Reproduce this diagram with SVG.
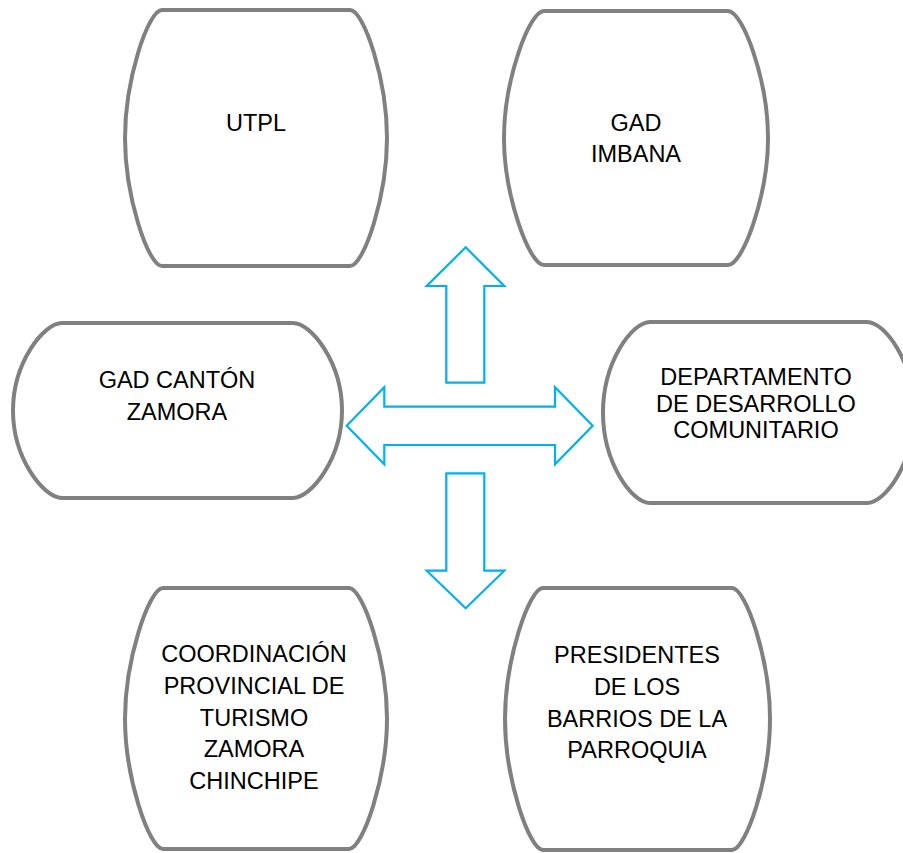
<svg xmlns="http://www.w3.org/2000/svg" width="903" height="853" viewBox="0 0 903 853">
<style>
.node{fill:#ffffff;stroke:#808080;stroke-width:4}
.arrow{fill:#ffffff;stroke:#00b0f0;stroke-width:2.2;stroke-linejoin:miter}
text{font-family:"Liberation Sans",Arial,sans-serif;font-size:23.5px;fill:#000;text-anchor:middle}
</style>
<rect width="903" height="853" fill="#ffffff"/>
<g id="connectors">
<path class="arrow" d="M465.7,247.3 L504.3,286 H484.3 V382.7 H446.3 V286 H426.7 Z"/>
<path class="arrow" d="M346.7,425.7 L384.3,387.3 V406.7 H555 V387.3 L592.7,425.7 L555,464.3 V445 H384.3 V464.3 Z"/>
<path class="arrow" d="M446.3,473.3 H484.3 V570.7 H504.3 L465.7,608.3 L426.7,570.7 H446.3 Z"/>
</g>
<g id="utpl">
<path class="node" d="M162,10 H350 C364,10 387,80 387,138 C387,196 364,266 350,266 H162 C148,266 125,196 125,138 C125,80 148,10 162,10 Z"/>
<text x="256" y="131">UTPL</text>
</g>
<g id="gad-imbana">
<path class="node" d="M544,11 H728 C743,11 768,81 768,138 C768,195 743,265 728,265 H544 C529,265 504,195 504,138 C504,81 529,11 544,11 Z"/>
<text x="636" y="131">GAD</text>
<text x="636" y="161.5">IMBANA</text>
</g>
<g id="gad-canton-zamora">
<path class="node" d="M62,323 H293 C311,323 342,362 342,410.5 C342,459 311,498 293,498 H62 C44,498 13,459 13,410.5 C13,362 44,323 62,323 Z"/>
<text x="177" y="388">GAD CANTÓN</text>
<text x="177" y="420">ZAMORA</text>
</g>
<g id="departamento">
<path class="node" d="M650,322 H867 C885,322 914,362 914,412.5 C914,463 885,503 867,503 H650 C632,503 603,463 603,412.5 C603,362 632,322 650,322 Z"/>
<text x="756" y="385">DEPARTAMENTO</text>
<text x="756" y="411.7">DE DESARROLLO</text>
<text x="756" y="438.3">COMUNITARIO</text>
</g>
<g id="coordinacion">
<path class="node" d="M163,588 H349 C363,588 387,660 387,718.5 C387,777 363,849 349,849 H163 C149,849 125,777 125,718.5 C125,660 149,588 163,588 Z"/>
<text x="254" y="662.3">COORDINACIÓN</text>
<text x="254" y="694">PROVINCIAL DE</text>
<text x="254" y="725.5">TURISMO</text>
<text x="254" y="757">ZAMORA</text>
<text x="254" y="788.5">CHINCHIPE</text>
</g>
<g id="presidentes">
<path class="node" d="M543,588 H732 C746,588 770,660 770,719 C770,778 746,850 732,850 H543 C529,850 505,778 505,719 C505,660 529,588 543,588 Z"/>
<text x="637" y="663.3">PRESIDENTES</text>
<text x="637" y="694.5">DE LOS</text>
<text x="637" y="726.5">BARRIOS DE LA</text>
<text x="637" y="757.7">PARROQUIA</text>
</g>
</svg>
